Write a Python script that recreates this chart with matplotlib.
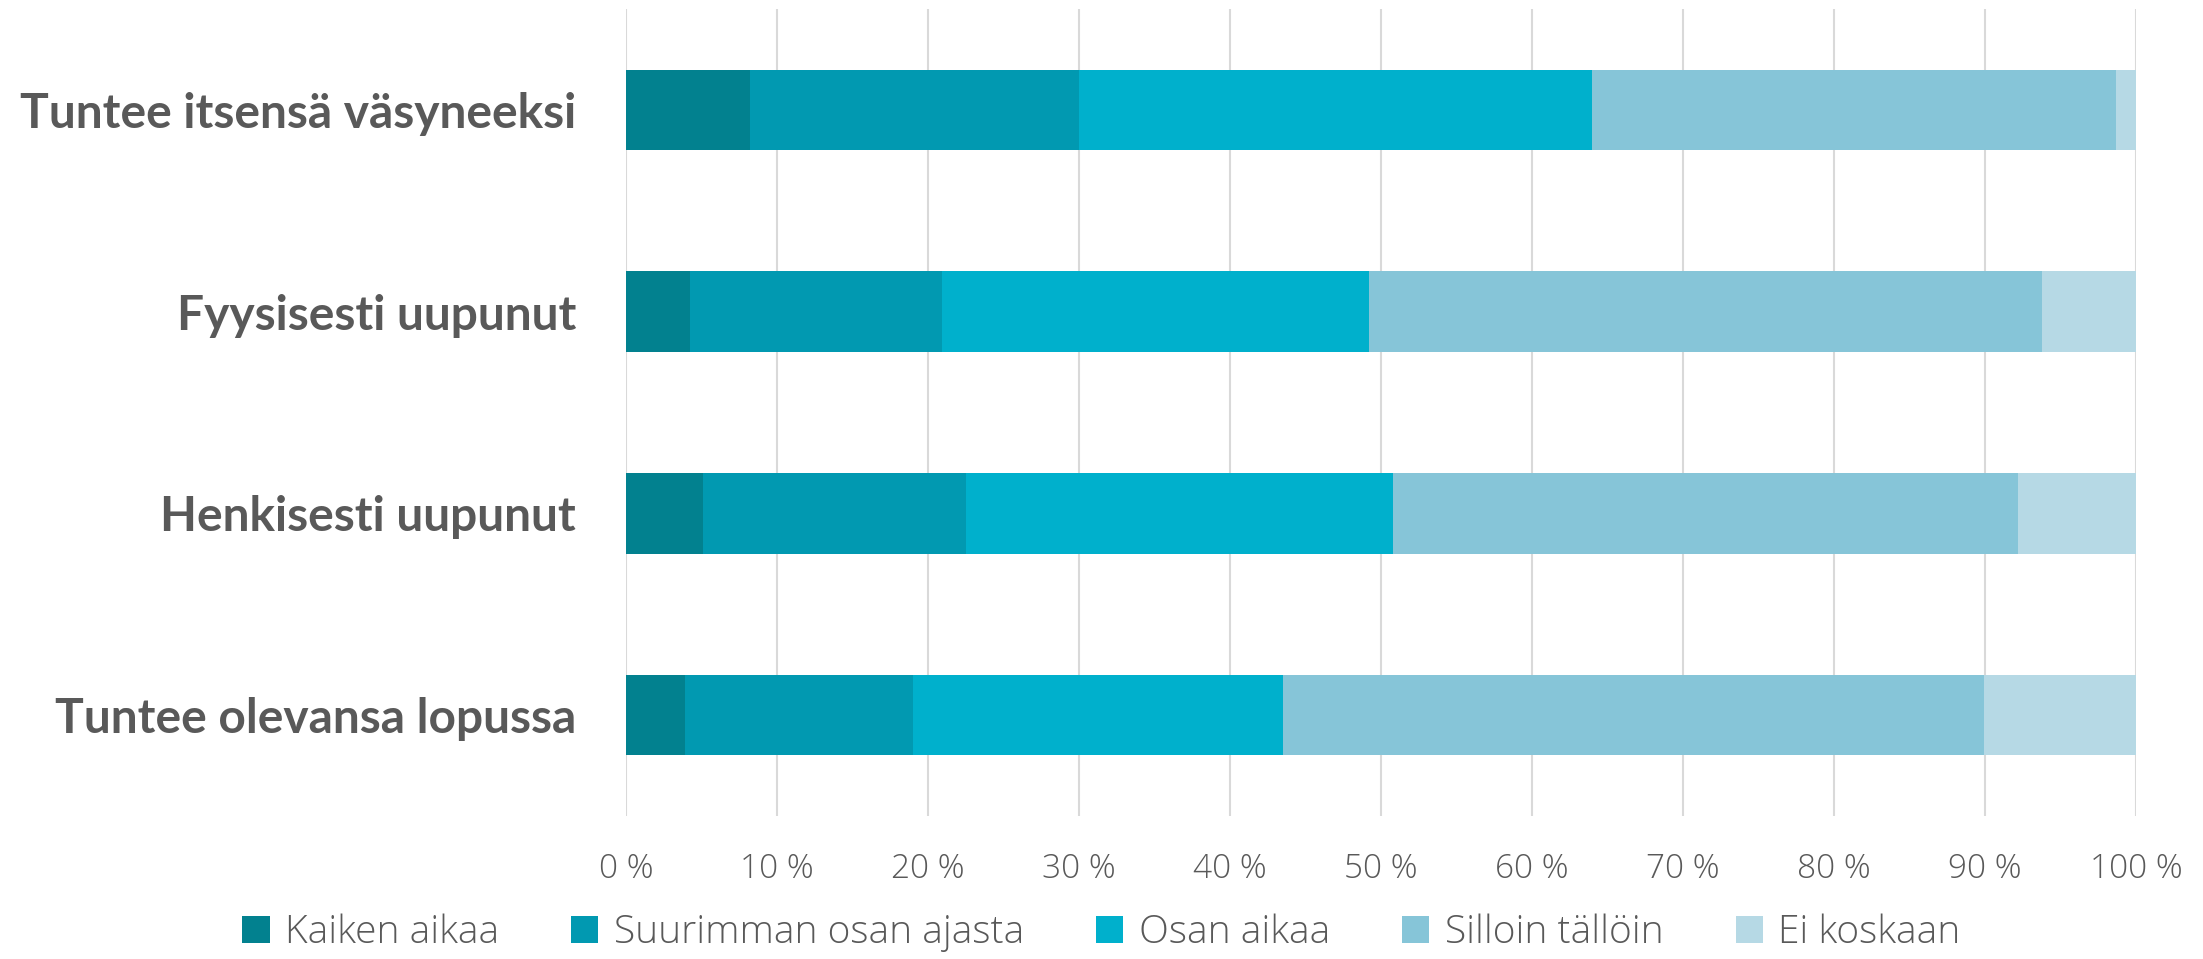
"""Stacked horizontal bar chart: uupumuksen kokeminen."""

import numpy as np
import matplotlib
matplotlib.use("Agg")
import matplotlib.pyplot as plt
from matplotlib.ticker import FuncFormatter

categories = [
    "Tuntee itsensä väsyneeksi",
    "Fyysisesti uupunut",
    "Henkisesti uupunut",
    "Tuntee olevansa lopussa",
]
series_names = [
    "Kaiken aikaa",
    "Suurimman osan ajasta",
    "Osan aikaa",
    "Silloin tällöin",
    "Ei koskaan",
]
kaiken_aikaa = [8.2, 4.2, 5.1, 3.9]
suurimman_osan = [21.8, 16.7, 17.4, 15.1]
osan_aikaa = [34.0, 28.3, 28.3, 24.5]
silloin_talloin = [34.7, 44.6, 41.4, 46.4]
ei_koskaan = [1.3, 6.2, 7.8, 10.1]

colors = ["#02818F", "#0199B1", "#00B0CC", "#86C5D8", "#B6D9E5"]
text_color = "#595959"

plt.rcParams["font.family"] = ["Open Sans", "DejaVu Sans"]

fig = plt.figure(figsize=(22.03, 9.59), dpi=100)
ax = fig.add_axes([0.2842, 0.1491, 0.6854, 0.8415])

values = [kaiken_aikaa, suurimman_osan, osan_aikaa, silloin_talloin, ei_koskaan]
y = np.arange(len(categories))
left = np.zeros(len(categories))
for name, vals, col in zip(series_names, values, colors):
    vals = np.asarray(vals, dtype=float)
    ax.barh(y, vals, left=left, height=0.4, color=col, label=name, zorder=3)
    left += vals

ax.set_xlim(0, 100)
ax.set_ylim(len(categories) - 0.5, -0.5)
ax.set_xticks(np.arange(0, 101, 10))
ax.xaxis.set_major_formatter(FuncFormatter(lambda v, _: f"{v:.0f} %"))
ax.set_yticks(y)
ax.set_yticklabels(categories)

ax.grid(axis="x", color="#D9D9D9", linewidth=1.5, zorder=0)
ax.set_axisbelow(True)
for s in ax.spines.values():
    s.set_visible(False)

ax.tick_params(axis="x", length=0, pad=26, labelsize=24, labelcolor=text_color)
ax.tick_params(axis="y", length=0, pad=36, labelcolor=text_color)
for lbl in ax.get_xticklabels():
    lbl.set_fontweight("light")
for lbl in ax.get_yticklabels():
    lbl.set_family(["Lato", "DejaVu Sans"])
    lbl.set_fontweight("bold")
    lbl.set_fontsize(34.5)

leg = fig.legend(
    loc="center",
    bbox_to_anchor=(0.5, 0.027),
    ncol=5,
    frameon=False,
    fontsize=28,
    handlelength=0.7,
    handleheight=0.7,
    handletextpad=0.4,
    columnspacing=1.85,
    labelcolor=text_color,
)
for t in leg.get_texts():
    t.set_fontweight("light")

fig.savefig("out.png", dpi=100)
